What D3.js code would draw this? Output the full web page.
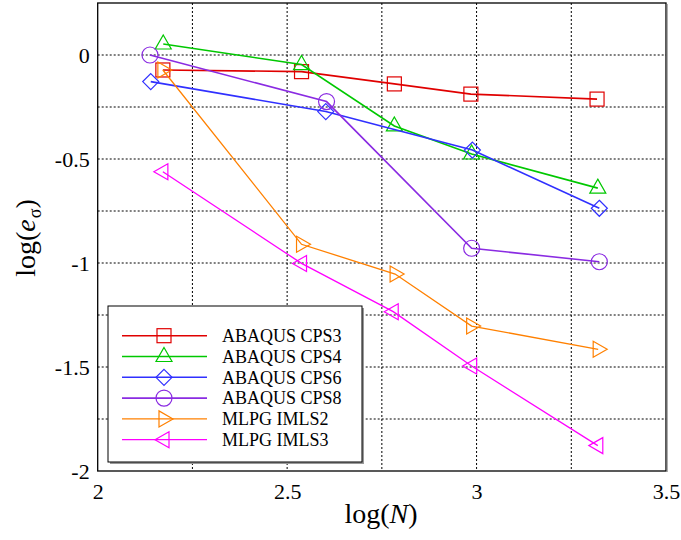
<!DOCTYPE html>
<html><head><meta charset="utf-8">
<script src="https://cdn.jsdelivr.net/npm/d3@7"></script>
<style>body{margin:0;background:#fff}svg{display:block}</style>
</head><body><svg id="c" width="681" height="540"></svg>
<script>
const seriesNames = ["ABAQUS CPS3","ABAQUS CPS4","ABAQUS CPS6","ABAQUS CPS8","MLPG IMLS2","MLPG IMLS3"];
const seriesColors = ["#e00000","#00c800","#3030ff","#8a2be2","#ff8000","#ff00ff"];
const seriesMarkers = ["square","triUp","diamond","circle","triRight","triLeft"];
const cps3X = [2.172,2.538,2.783,2.985,3.318];
const cps3Y = [-0.072,-0.080,-0.139,-0.188,-0.212];
const cps4X = [2.173,2.538,2.783,2.987,3.320];
const cps4Y = [0.053,-0.046,-0.341,-0.476,-0.640];
const cps6X = [2.140,2.602,2.989,3.324];
const cps6Y = [-0.128,-0.272,-0.457,-0.737];
const cps8X = [2.138,2.604,2.987,3.324];
const cps8Y = [0.000,-0.224,-0.929,-0.994];
const imls2X = [2.172,2.538,2.785,2.987,3.321];
const imls2Y = [-0.072,-0.910,-1.053,-1.303,-1.415];
const imls3X = [2.172,2.538,2.780,2.987,3.320];
const imls3Y = [-0.561,-1.002,-1.234,-1.495,-1.878];
const xTicks = [2,2.5,3,3.5];
const yTicks = [0,-0.5,-1,-1.5,-2];
const xGrid = [2.25,2.5,2.75,3,3.25];
const yGrid = [0,-0.25,-0.5,-0.75,-1,-1.25,-1.5,-1.75];

const seriesX = [cps3X,cps4X,cps6X,cps8X,imls2X,imls3X];
const seriesY = [cps3Y,cps4Y,cps6Y,cps8Y,imls2Y,imls3Y];
const lineW = [1.6,1.6,1.6,1.6,1.3,1.3];

const svg = d3.select("#c");
const L=97.7,R=666,T=3,B=471;
const x = d3.scaleLinear().domain([2,3.5]).range([L,R]);
const y = d3.scaleLinear().domain([-2,0.25]).range([B,T]);
const font = "'Liberation Serif','Times New Roman',serif";

// grid
const g = svg.append("g");
g.selectAll(".gx").data(xGrid).enter().append("line")
 .attr("x1",d=>x(d)).attr("x2",d=>x(d)).attr("y1",T).attr("y2",B)
 .attr("stroke","#000").attr("stroke-width",1).attr("stroke-dasharray","2,2");
g.selectAll(".gy").data(yGrid).enter().append("line")
 .attr("y1",d=>y(d)).attr("y2",d=>y(d)).attr("x1",L).attr("x2",R)
 .attr("stroke","#000").attr("stroke-width",1).attr("stroke-dasharray","2,2");

// axes with labels
const xa = svg.append("g").attr("transform",`translate(0,${B})`)
 .call(d3.axisBottom(x).tickValues(xTicks).tickSize(0).tickPadding(7).tickFormat(d3.format("")));
xa.select(".domain").remove();
xa.attr("font-family",null).attr("font-size",null);
xa.selectAll("text").style("font-family",font).style("font-size","22px").attr("fill","#000").attr("dy","0.95em");
const ya = svg.append("g").attr("transform",`translate(${L},0)`)
 .call(d3.axisLeft(y).tickValues(yTicks).tickSize(0).tickPadding(8).tickFormat(d=>String(d)));
ya.select(".domain").remove();
ya.attr("font-family",null).attr("font-size",null);
ya.selectAll("text").style("font-family",font).style("font-size","22px").attr("fill","#000");

// frame
svg.append("rect").attr("x",L).attr("y",T).attr("width",R-L).attr("height",B-T)
 .attr("fill","none").attr("stroke","#000").attr("stroke-width",1.3);
svg.append("line").attr("x1",R+1.2).attr("x2",R+1.2).attr("y1",T+1).attr("y2",B+1).attr("stroke","#888").attr("stroke-width",1);

function marker(sel,type,cx,cy,color){
  const s=8;
  let p;
  if(type==="square") p=sel.append("rect").attr("x",cx-s+1).attr("y",cy-s+1).attr("width",2*s-2).attr("height",2*s-2);
  else if(type==="circle") p=sel.append("circle").attr("cx",cx).attr("cy",cy).attr("r",s);
  else {
    let pts;
    if(type==="triUp") pts=[[cx,cy-s-1],[cx+s,cy+s-3],[cx-s,cy+s-3]];
    else if(type==="diamond") pts=[[cx,cy-s],[cx+s,cy],[cx,cy+s],[cx-s,cy]];
    else if(type==="triRight") pts=[[cx+s+1,cy],[cx-s+3,cy-s],[cx-s+3,cy+s]];
    else pts=[[cx-s-1,cy],[cx+s-3,cy-s],[cx+s-3,cy+s]];
    p=sel.append("polygon").attr("points",pts.map(q=>q.join(",")).join(" "));
  }
  p.attr("fill","none").attr("stroke",color).attr("stroke-width",1.2);
}

const line = d3.line();
seriesNames.forEach((n,i)=>{
  const pts = seriesX[i].map((v,j)=>[x(v),y(seriesY[i][j])]);
  svg.append("path").attr("d",line(pts)).attr("fill","none")
   .attr("stroke",seriesColors[i]).attr("stroke-width",lineW[i]);
  const mg = svg.append("g");
  pts.forEach(p=>marker(mg,seriesMarkers[i],p[0],p[1],seriesColors[i]));
});

// legend
const lx=108, ly=306, lw=254, lh=156;
svg.append("rect").attr("x",lx+2).attr("y",ly+2).attr("width",lw).attr("height",lh).attr("fill","#999");
svg.append("rect").attr("x",lx).attr("y",ly).attr("width",lw).attr("height",lh).attr("fill","#fff").attr("stroke","#000").attr("stroke-width",1);
seriesNames.forEach((n,i)=>{
  const yy = 335.7 + i*20.8;
  svg.append("line").attr("x1",122).attr("x2",207).attr("y1",yy).attr("y2",yy)
   .attr("stroke",seriesColors[i]).attr("stroke-width",lineW[i]);
  marker(svg,seriesMarkers[i],164,yy,seriesColors[i]);
  svg.append("text").attr("x",222).attr("y",yy).attr("dy","0.35em")
   .style("font-family",font).style("font-size","18px").attr("fill","#000").text(n);
});

// axis titles
const xt = svg.append("text").attr("x",381).attr("y",523).attr("text-anchor","middle")
 .style("font-family",font).style("font-size","28px").attr("fill","#000");
xt.append("tspan").text("log(");
xt.append("tspan").attr("font-style","italic").text("N");
xt.append("tspan").text(")");
const yt = svg.append("text").attr("transform","translate(35,238) rotate(-90)").attr("text-anchor","middle")
 .style("font-family",font).style("font-size","28px").attr("fill","#000");
yt.append("tspan").text("log(");
yt.append("tspan").attr("font-style","italic").text("e");
yt.append("tspan").style("font-size","18px").attr("dy",6).attr("dx",1).text("σ");
yt.append("tspan").attr("dy",-6).text(")");
</script></body></html>
